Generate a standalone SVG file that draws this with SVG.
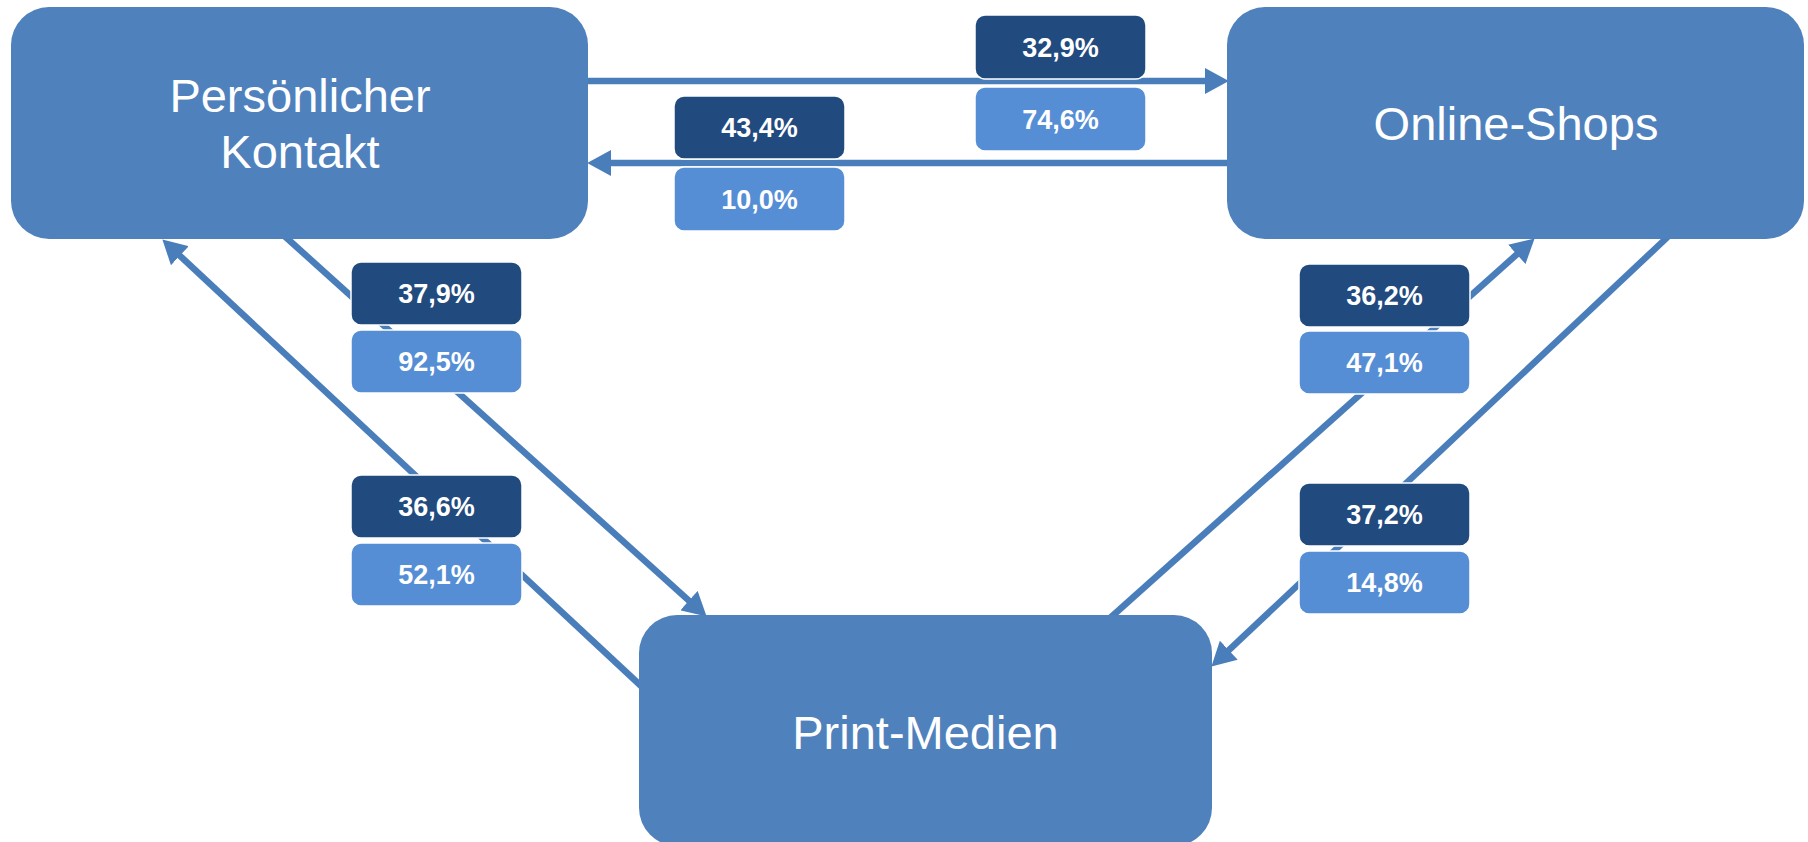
<svg xmlns="http://www.w3.org/2000/svg" width="1808" height="842" viewBox="0 0 1808 842">
<defs>
<style>
.node{fill:#4F81BD;}
.ntext{font-family:"Liberation Sans",Arial,sans-serif;font-size:47px;fill:#fff;text-anchor:middle;}
.conn{stroke:#4A7EBB;stroke-width:6.5;fill:none;marker-end:url(#ah);}
.dark{fill:#214A7E;stroke:#fff;stroke-width:1.5;}
.light{fill:#558ED5;stroke:#fff;stroke-width:1.5;}
.ltext{font-family:"Liberation Sans",Arial,sans-serif;font-size:27px;font-weight:bold;fill:#fff;text-anchor:middle;}
</style>
<marker id="ah" markerUnits="userSpaceOnUse" markerWidth="24" markerHeight="26" viewBox="0 0 22 24" refX="12" refY="12" orient="auto">
<path d="M0,0 L22,12 L0,24 z" fill="#4A7EBB"/>
</marker>
</defs>
<g id="connectors">
<line class="conn" x1="580" y1="81" x2="1218" y2="81"/>
<line class="conn" x1="1236" y1="163" x2="598" y2="163"/>
<line class="conn" x1="280" y1="232" x2="698.6" y2="609.3"/>
<line class="conn" x1="655" y1="699" x2="170.3" y2="246.8"/>
<line class="conn" x1="1100" y1="627" x2="1526.5" y2="245.7"/>
<line class="conn" x1="1674" y1="231" x2="1219.3" y2="659.1"/>
</g>
<g id="node-persoenlicher-kontakt">
<rect class="node" x="11" y="7" width="577" height="232" rx="38" ry="38"/>
<text class="ntext" x="300" y="112">Persönlicher</text>
<text class="ntext" x="300" y="168">Kontakt</text>
</g>
<g id="node-online-shops">
<rect class="node" x="1227" y="7" width="577" height="232" rx="38" ry="38"/>
<text class="ntext" x="1516" y="140">Online-Shops</text>
</g>
<g id="node-print-medien">
<rect class="node" x="639" y="615" width="573" height="231" rx="38" ry="38"/>
<text class="ntext" x="925.5" y="749">Print-Medien</text>
</g>
<g id="label-329">
<rect class="dark" x="975" y="15" width="171" height="64" rx="10"/>
<text class="ltext" x="1060.5" y="57">32,9%</text>
</g>
<g id="label-746">
<rect class="light" x="975" y="87" width="171" height="64" rx="10"/>
<text class="ltext" x="1060.5" y="129">74,6%</text>
</g>
<g id="label-434">
<rect class="dark" x="674" y="96" width="171" height="63" rx="10"/>
<text class="ltext" x="759.5" y="137">43,4%</text>
</g>
<g id="label-100">
<rect class="light" x="674" y="167" width="171" height="64" rx="10"/>
<text class="ltext" x="759.5" y="209">10,0%</text>
</g>
<g id="label-379">
<rect class="dark" x="351" y="262" width="171" height="63" rx="10"/>
<text class="ltext" x="436.5" y="303">37,9%</text>
</g>
<g id="label-925">
<rect class="light" x="351" y="330" width="171" height="63" rx="10"/>
<text class="ltext" x="436.5" y="371">92,5%</text>
</g>
<g id="label-366">
<rect class="dark" x="351" y="475" width="171" height="63" rx="10"/>
<text class="ltext" x="436.5" y="516">36,6%</text>
</g>
<g id="label-521">
<rect class="light" x="351" y="543" width="171" height="63" rx="10"/>
<text class="ltext" x="436.5" y="584">52,1%</text>
</g>
<g id="label-362">
<rect class="dark" x="1299" y="264" width="171" height="63" rx="10"/>
<text class="ltext" x="1384.5" y="305">36,2%</text>
</g>
<g id="label-471">
<rect class="light" x="1299" y="331" width="171" height="63" rx="10"/>
<text class="ltext" x="1384.5" y="372">47,1%</text>
</g>
<g id="label-372">
<rect class="dark" x="1299" y="483" width="171" height="63" rx="10"/>
<text class="ltext" x="1384.5" y="524">37,2%</text>
</g>
<g id="label-148">
<rect class="light" x="1299" y="551" width="171" height="63" rx="10"/>
<text class="ltext" x="1384.5" y="592">14,8%</text>
</g>
</svg>
